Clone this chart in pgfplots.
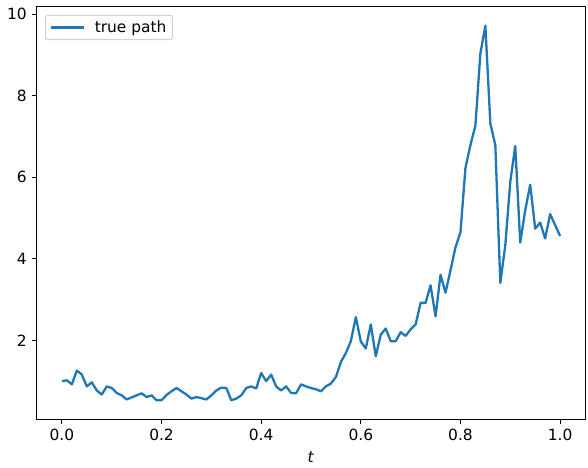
\documentclass[border=0pt]{standalone}
\usepackage{pgfplots}
\pgfplotsset{compat=1.18}
\usepackage{fontspec}
\setmainfont{DejaVu Sans}
\definecolor{tabblue}{HTML}{1F77B4}
\begin{document}
\fontsize{15.5}{18.5}\selectfont
\begin{tikzpicture}
\begin{axis}[
  name=ax,
  width=548bp, height=412bp, scale only axis,
  xmin=-0.05, xmax=1.05, ymin=0.07, ymax=10.18,
  xtick={0,0.2,0.4,0.6,0.8,1.0},
  ytick={2,4,6,8,10},
  xticklabel style={/pgf/number format/.cd, fixed, fixed zerofill, precision=1},
  /pgf/number format/assume math mode=true,
  tick align=outside, tick pos=left,
  major tick length=5bp,
  every tick/.style={black, line width=1bp},
  axis line style={line width=1bp},
  xlabel={\textit{t}},
  xlabel style={yshift=0bp},
  tick label style={font=\fontsize{15.5}{18.5}\selectfont},
  label style={font=\fontsize{15.5}{18.5}\selectfont},
  legend style={draw=black!18, rounded corners=2bp, line width=1bp, font=\fontsize{15.5}{18.5}\selectfont, inner xsep=4bp, inner ysep=3bp, at={(0.0146,0.9806)}, anchor=north west},
  legend cell align=left,
  legend image code/.code={\draw[#1] (0bp,0bp) -- (33bp,0bp); \path (41bp,0bp);},
  clip=false,
]
\addplot[tabblue, line width=2.3bp, line join=round] table {
0.00 1.00
0.01 1.02
0.02 0.92
0.03 1.26
0.04 1.16
0.05 0.87
0.06 0.97
0.07 0.77
0.08 0.67
0.09 0.87
0.10 0.83
0.11 0.71
0.12 0.65
0.13 0.55
0.14 0.60
0.15 0.65
0.16 0.70
0.17 0.61
0.18 0.65
0.19 0.53
0.20 0.53
0.21 0.66
0.22 0.75
0.23 0.83
0.24 0.75
0.25 0.67
0.26 0.57
0.27 0.61
0.28 0.58
0.29 0.55
0.30 0.65
0.31 0.77
0.32 0.84
0.33 0.83
0.34 0.53
0.35 0.57
0.36 0.65
0.37 0.83
0.38 0.87
0.39 0.82
0.40 1.20
0.41 1.00
0.42 1.16
0.43 0.87
0.44 0.77
0.45 0.87
0.46 0.71
0.47 0.70
0.48 0.92
0.49 0.87
0.50 0.83
0.51 0.80
0.52 0.75
0.53 0.87
0.54 0.94
0.55 1.10
0.56 1.47
0.57 1.69
0.58 1.98
0.59 2.57
0.60 1.97
0.61 1.80
0.62 2.39
0.63 1.61
0.64 2.14
0.65 2.29
0.66 1.98
0.67 1.98
0.68 2.20
0.69 2.11
0.70 2.27
0.71 2.39
0.72 2.92
0.73 2.92
0.74 3.35
0.75 2.59
0.76 3.61
0.77 3.17
0.78 3.72
0.79 4.28
0.80 4.65
0.81 6.23
0.82 6.79
0.83 7.27
0.84 9.04
0.85 9.72
0.86 7.32
0.87 6.79
0.88 3.41
0.89 4.33
0.90 5.89
0.91 6.77
0.92 4.40
0.93 5.19
0.94 5.82
0.95 4.74
0.96 4.89
0.97 4.50
0.98 5.10
0.99 4.83
1.00 4.56
};
\addlegendentry{true path}
\coordinate (sw) at (rel axis cs:0,0);
\coordinate (ne) at (rel axis cs:1,1);
\end{axis}
\path[use as bounding box] ([shift={(-37bp,-43bp)}]sw) rectangle ([shift={(3bp,7bp)}]ne);
\end{tikzpicture}
\end{document}
